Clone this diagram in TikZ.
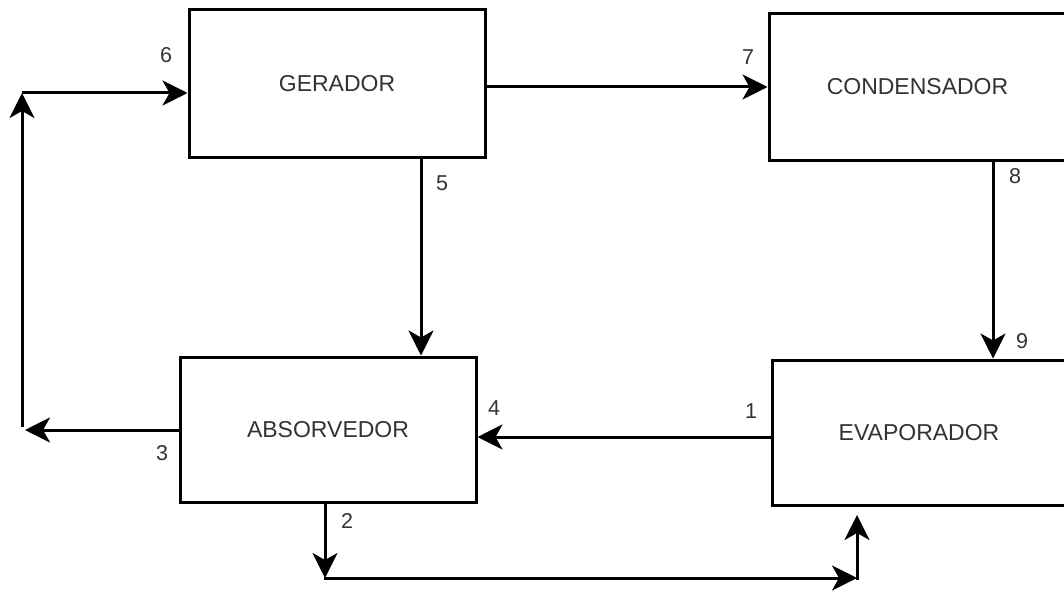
\documentclass[tikz,border=0pt]{standalone}
\usepackage{fontspec}
\setmainfont{Liberation Sans}
\usetikzlibrary{arrows.meta}
\begin{document}
\begin{tikzpicture}[x=1pt,y=-1pt,
  blk/.style={draw=black,line width=3pt,rectangle,inner sep=0pt,text=black!80,font=\fontsize{23}{26}\selectfont},
  lbl/.style={text=black!80,inner sep=0pt,font=\fontsize{21.5}{24}\selectfont},
  arr/.style={line width=3pt,-{Stealth[length=25pt,width=25pt,inset=7pt]}},
  ln/.style={line width=3pt}]
\useasboundingbox (0,0) rectangle (1064,591);
\clip (0,0) rectangle (1064,591);
\fill[white] (0,0) rectangle (1064,591);
% blocks
\node[blk,minimum width=296pt,minimum height=147pt] (ger) at (337,83.5) {GERADOR};
\node[blk,minimum width=297pt,minimum height=146pt] (con) at (917.5,87) {CONDENSADOR};
\node[blk,minimum width=296pt,minimum height=145pt] (abs) at (328,429.5) {ABSORVEDOR};
\node[blk,minimum width=294pt,minimum height=145pt] (eva) at (919,432.5) {EVAPORADOR};
% helper coordinates
\coordinate (c3) at (25,430);
\coordinate (c3b) at (22,427);
\coordinate (c6) at (22,93);
\coordinate (c2) at (325,578);
\coordinate (c2b) at (857,578);
\coordinate (c2t) at (857,515);
\coordinate (y1) at (0,437);
\coordinate (x5) at (421,0);
\coordinate (x8) at (993,0);
% connectors
\draw[arr] (ger.east |- con.west) -- (con.west);
\draw[arr] (ger.south -| x5) -- (abs.north -| x5);
\draw[arr] (con.south -| x8) -- (eva.north -| x8);
\draw[arr] (eva.west |- y1) -- (abs.east |- y1);
\draw[arr] (abs.west |- c3) -- (c3);
\draw[arr] (c3b) -- (c6);
\draw[arr] (c6) -- (ger.west |- c6);
\draw[arr] (abs.south -| c2) -- (c2);
\draw[arr] ([xshift=-1.5pt]c2) -- (c2b);
\draw[arr] ([yshift=-1.5pt]c2b) -- (c2t);
% labels
\node[lbl] (n6) at (166,55) {6};
\node[lbl] (n7) at (748,57) {7};
\node[lbl] (n5) at (442,183) {5};
\node[lbl] (n8) at (1015,176) {8};
\node[lbl] (n9) at (1022,341) {9};
\node[lbl] (n4) at (494,408) {4};
\node[lbl] (n1) at (751,411) {1};
\node[lbl] (n3) at (162,453) {3};
\node[lbl] (n2) at (347,521) {2};
\end{tikzpicture}
\end{document}
